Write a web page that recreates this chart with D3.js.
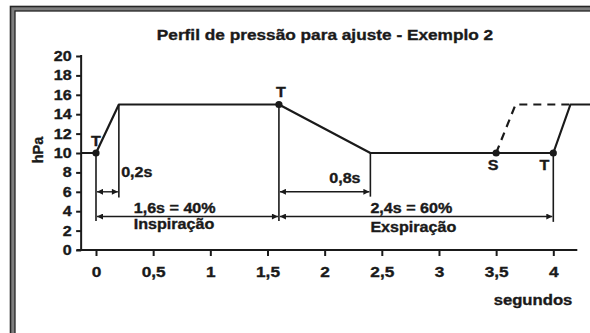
<!DOCTYPE html>
<html>
<head>
<meta charset="utf-8">
<script src="https://cdn.jsdelivr.net/npm/d3@7"></script>
<style>
  body { margin: 0; background: #fff; }
  svg text { font-family: "Liberation Sans", Arial, sans-serif; font-weight: bold; fill: #1a1a1a;
             stroke: #1a1a1a; stroke-width: 0.35px; }
</style>
</head>
<body>
<div id="chart"></div>
<script>
const width = 590, height = 333;

// data
const yTicks = [0, 2, 4, 6, 8, 10, 12, 14, 16, 18, 20];
const xTicks = [0, 0.5, 1, 1.5, 2, 2.5, 3, 3.5, 4];
const pressure = [[-0.13, 10], [0, 10], [0.2, 15], [1.6, 15], [2.4, 10], [4, 10], [4.15, 15], [4.35, 15]];
const pressureAlt = [[3.5, 10], [3.67, 15], [4.15, 15]];
const points = [[0, 10, "T"], [1.6, 15, "T"], [3.5, 10, "S"], [4, 10, "T"]];
const guides = [[0, 10, 3], [0.2, 15, 5.4], [1.6, 15, 3], [2.4, 10, 5.5], [4, 10, 2.9]];
const spans = [[0, 0.2, 6], [1.6, 2.4, 6], [0, 1.6, 3.45], [1.6, 4, 3.45]];
const notes = [
  ["0,2s", 0.22, 7.5],
  ["0,8s", 2.04, 6.95],
  ["1,6s = 40%", 0.33, 3.8],
  ["Inspiração", 0.33, 2.2],
  ["2,4s = 60%", 2.4, 3.8],
  ["Exspiração", 2.4, 1.85]
];
const title = "Perfil de pressão para ajuste - Exemplo 2";
const xTitle = "segundos", yTitle = "hPa";

const SX = 1.15; // text in the picture is a bit wider than the font
const ink = "#1a1a1a";

const x = d3.scaleLinear().domain([0, 4]).range([96, 553.3]);
const y = d3.scaleLinear().domain([0, 20]).range([250, 56]);
const fmt = d => String(d).replace(".", ",");

const svg = d3.select("#chart").append("svg")
  .attr("width", width).attr("height", height);

// frame (runs off the right and bottom edge)
svg.append("rect").attr("x", 12.5).attr("y", 8.5).attr("width", 1000).attr("height", 1000)
  .attr("fill", "none").attr("stroke", "#7e7e7e").attr("stroke-width", 5);
svg.append("rect").attr("x", 10.5).attr("y", 6.5).attr("width", 1000).attr("height", 1000)
  .attr("fill", "none").attr("stroke", "#262626").attr("stroke-width", 1.6);
svg.append("rect").attr("x", 15).attr("y", 11).attr("width", 1000).attr("height", 1000)
  .attr("fill", "none").attr("stroke", "#262626").attr("stroke-width", 1.3);

function place(sel, px, py) {
  return sel.attr("transform", `translate(${px},${py}) scale(${SX},1)`);
}

// title
place(svg.append("text"), 325, 40)
  .attr("text-anchor", "middle").attr("font-size", 15).text(title);

// axes
const axisX = x(-0.13);
const yAxis = d3.axisLeft(y).tickValues(yTicks).tickSize(5).tickSizeOuter(0);
const gy = svg.append("g").attr("transform", `translate(${axisX},0)`).call(yAxis);
gy.select(".domain").remove();
gy.selectAll("line").attr("stroke", ink).attr("stroke-width", 2);
gy.selectAll("text").attr("x", null).attr("font-size", 14).attr("font-family", null)
  .attr("fill", ink)
  .attr("transform", `translate(-9.5,0) scale(${SX},1)`);

const xAxis = d3.axisBottom(x).tickValues(xTicks).tickFormat(fmt).tickSize(6).tickPadding(10);
const gx = svg.append("g").attr("transform", `translate(0,${y(0)})`).call(xAxis);
gx.select(".domain").remove();
gx.selectAll("line").attr("stroke", ink).attr("stroke-width", 2);
gx.selectAll("text").attr("font-size", 15).attr("font-family", null).attr("fill", ink)
  .attr("transform", `scale(${SX},1)`);

svg.append("line")
  .attr("x1", axisX).attr("x2", axisX).attr("y1", y(20) - 1).attr("y2", y(0))
  .attr("stroke", ink).attr("stroke-width", 2);
svg.append("line")
  .attr("x1", x(-0.17)).attr("x2", x(4.21)).attr("y1", y(0)).attr("y2", y(0))
  .attr("stroke", ink).attr("stroke-width", 2);

// axis titles
place(svg.append("text"), 533, 305)
  .attr("text-anchor", "middle").attr("font-size", 14.5).text(xTitle);
svg.append("text")
  .attr("transform", `translate(43,150) rotate(-90)`)
  .attr("text-anchor", "middle").attr("font-size", 14.5).text(yTitle);

// arrow heads
const defs = svg.append("defs");
defs.append("marker").attr("id", "head")
  .attr("viewBox", "0 0 10 10").attr("refX", 10).attr("refY", 5)
  .attr("markerUnits", "userSpaceOnUse").attr("markerWidth", 7).attr("markerHeight", 6)
  .attr("orient", "auto-start-reverse")
  .append("path").attr("d", "M0,0 L10,5 L0,10 Z").attr("fill", ink);

// guide lines
svg.append("g").selectAll("line").data(guides).join("line")
  .attr("x1", d => x(d[0])).attr("x2", d => x(d[0]))
  .attr("y1", d => y(d[1])).attr("y2", d => y(d[2]))
  .attr("stroke", ink).attr("stroke-width", 1.6);

svg.append("g").selectAll("line").data(spans).join("line")
  .attr("x1", d => x(d[0]) + 1).attr("x2", d => x(d[1]) - 1)
  .attr("y1", d => y(d[2])).attr("y2", d => y(d[2]))
  .attr("stroke", ink).attr("stroke-width", 1.4)
  .attr("marker-start", "url(#head)").attr("marker-end", "url(#head)");

svg.append("g").selectAll("text").data(notes).join("text")
  .attr("transform", d => `translate(${x(d[1])},${y(d[2])}) scale(${SX},1)`)
  .attr("font-size", 14).text(d => d[0]);

// pressure curves
const line = d3.line().x(d => x(d[0])).y(d => y(d[1]));
svg.append("path").datum(pressureAlt).attr("d", line)
  .attr("fill", "none").attr("stroke", ink).attr("stroke-width", 2.2)
  .attr("stroke-dasharray", "8,6");
svg.append("path").datum(pressure).attr("d", line)
  .attr("fill", "none").attr("stroke", ink).attr("stroke-width", 2.2)
  .attr("stroke-linejoin", "round");

svg.append("g").selectAll("circle").data(points).join("circle")
  .attr("cx", d => x(d[0])).attr("cy", d => y(d[1])).attr("r", 3.6)
  .attr("fill", ink);

// point labels: above for the first two, below for the last two
const labelOffset = [[0, -7], [2, -8], [-3, 17], [-9, 17]];
svg.append("g").selectAll("text").data(points).join("text")
  .attr("transform", (d, i) =>
    `translate(${x(d[0]) + labelOffset[i][0]},${y(d[1]) + labelOffset[i][1]}) scale(${SX},1)`)
  .attr("text-anchor", "middle").attr("font-size", 14).text(d => d[2]);
</script>
</body>
</html>
